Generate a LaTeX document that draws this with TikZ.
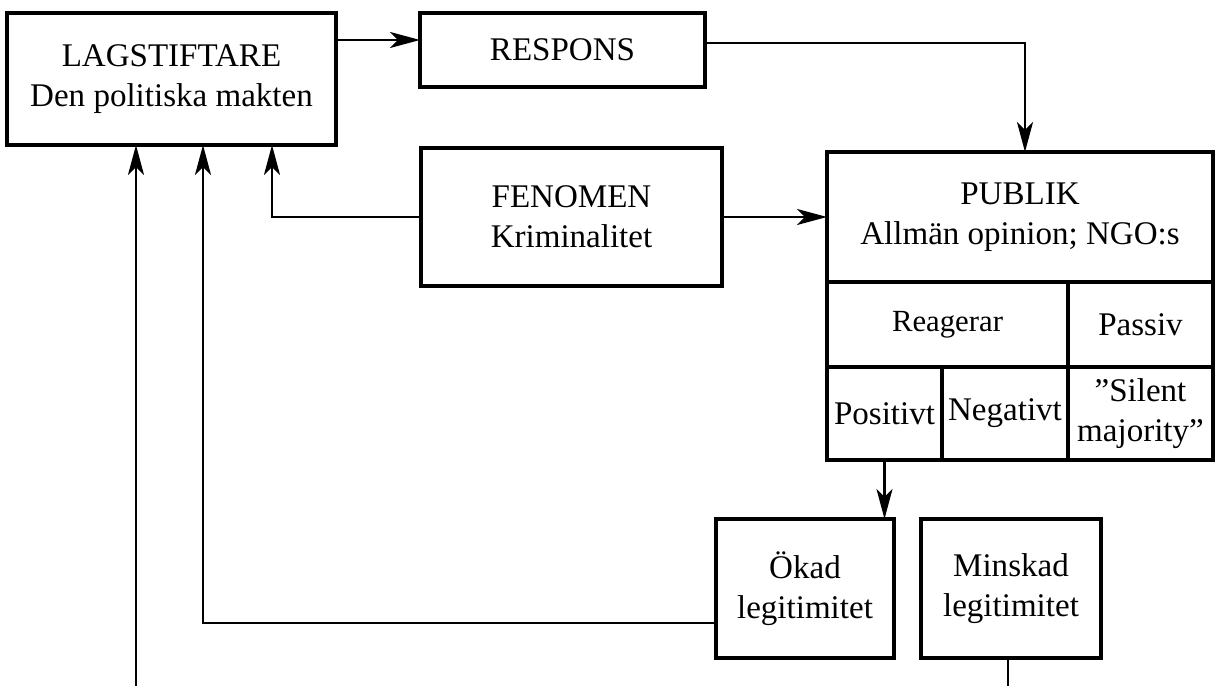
\documentclass[tikz,border=0pt]{standalone}
\usepackage{fontspec}
\setmainfont{Liberation Serif}
\usetikzlibrary{arrows.meta,positioning}

\tikzset{
  box/.style={draw, line width=2pt, inner sep=0pt, outer sep=0pt, align=center,
    font=\fontsize{18.8}{22.5}\selectfont},
  arr/.style={line width=1.5pt, -{Stealth[length=0.6cm,width=0.32cm,inset=0.16cm]}},
  lin/.style={line width=1.5pt},
}

\begin{document}
\begin{tikzpicture}
      \useasboundingbox (0,0) rectangle (24.32,13.72);
      % top row
      \node[box, minimum width=6.58cm, minimum height=2.64cm] (lag) at (3.43,12.14)
        {LAGSTIFTARE\\Den politiska makten};
      \node[box, minimum width=5.7cm, minimum height=1.48cm] (resp) at (11.25,12.72) {RESPONS};
      \node[box, minimum width=6.02cm, minimum height=2.76cm] (fen) at (11.43,9.38)
        {FENOMEN\\Kriminalitet};
      % publik with its cells
      \node[box, minimum width=7.72cm, minimum height=2.6cm] (pub) at (20.4,9.38)
        {PUBLIK\\Allmän opinion; NGO:s};
      \node[box, anchor=north west, minimum width=4.82cm, minimum height=1.7cm,
        font=\fontsize{17.5}{21}\selectfont] (reag) at (pub.south west) {Reagerar};
      \node[box, anchor=north west, minimum width=2.9cm, minimum height=1.7cm] (pass) at (reag.north east) {Passiv};
      \node[box, anchor=north west, minimum width=2.3cm, minimum height=1.86cm] (pos) at (reag.south west) {Positivt};
      \node[box, anchor=north west, minimum width=2.52cm, minimum height=1.86cm] (neg) at (pos.north east) {Negativt};
      \node[box, anchor=north west, minimum width=2.9cm, minimum height=1.86cm] (sil) at (neg.north east)
        {”Silent\\majority”};
      % legitimitet
      \node[box, minimum width=3.56cm, minimum height=2.78cm] (okad) at (16.1,1.95) {Ökad\\legitimitet};
      \node[box, minimum width=3.6cm, minimum height=2.78cm] (mins) at (20.22,1.95) {Minskad\\legitimitet};
      \coordinate (r1) at ([yshift=0.2cm]resp.west);
      \coordinate (b1) at (2.72,0);
      \coordinate (b2) at (20.16,0);
      % connectors
      \draw[arr] (r1 -| lag.east) -- (r1);
      \draw[arr] ([yshift=0.14cm]resp.east) -| ([xshift=0.1cm]pub.north);
      \draw[arr] (fen.west) -| ([xshift=2.01cm]lag.south);
      \draw[arr] (fen.east) -- (pub.west);
      \draw[arr] (pos.south) -- (pos.south |- okad.north);
      \draw[arr] ([yshift=-0.69cm]okad.west) -| ([xshift=0.63cm]lag.south);
      \draw[arr] (b1) -- (b1 |- lag.south);
      \draw[lin] (b2 |- mins.south) -- (b2);
\end{tikzpicture}
\end{document}
